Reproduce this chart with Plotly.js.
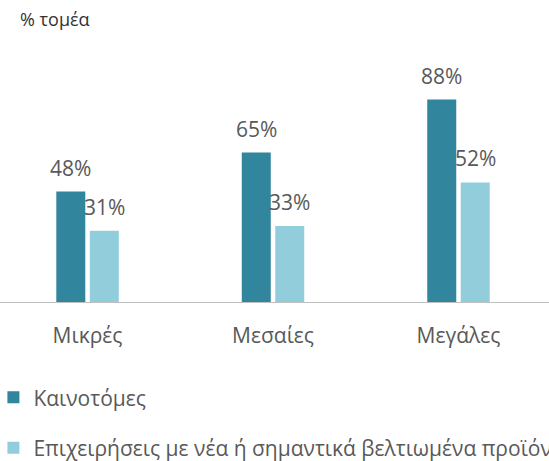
<!DOCTYPE html>
<html>
<head>
<meta charset="utf-8">
<script src="https://cdn.plot.ly/plotly-3.0.1.min.js"></script>
<style>html,body{margin:0;padding:0;background:#fff;}#chart{width:549px;height:461px;}</style>
</head>
<body>
<div id="chart"></div>
<script>
const categories = ["Μικρές", "Μεσαίες", "Μεγάλες"];
const seriesNames = ["Καινοτόμες", "Επιχειρήσεις με νέα ή σημαντικά βελτιωμένα προϊόντα"];
const innovative = [48, 65, 88];
const newProducts = [31, 33, 52];
const yTitle = "% τομέα";

const colors = ["#31859C", "#92CDDC"];
const FONT = "Open Sans, Noto Sans, sans-serif";
const GRAY = "#595959";
const bargap = 0.639, bargroupgap = 0.134;
const slot = (1 - bargap) / 2;

const seriesValues = [innovative, newProducts];
const traces = seriesValues.map((vals, s) => ({
  type: "bar",
  name: seriesNames[s],
  x: categories.map((c, i) => i),
  y: vals,
  marker: {color: colors[s]},
  legendgroup: "g" + s,
  hoverinfo: "skip"
}));

const annotations = [];
seriesValues.forEach((vals, s) => {
  vals.forEach((v, i) => {
    annotations.push({
      x: i + (s === 0 ? -slot / 2 : slot / 2),
      y: v, xref: "x", yref: "y",
      text: v + "%",
      showarrow: false,
      yanchor: "bottom",
      yshift: 8,
      font: {family: FONT, size: 21, color: GRAY}
    });
  });
});

const layout = {
  width: 549, height: 461,
  margin: {l: 0, r: 0, t: 72, b: 159, autoexpand: false},
  paper_bgcolor: "#fff", plot_bgcolor: "#fff",
  barmode: "group", bargap: bargap, bargroupgap: bargroupgap,
  showlegend: true,
  title: {
    text: yTitle, xref: "container", yref: "container",
    x: 20 / 549, xanchor: "left", y: 1 - 20 / 461, yanchor: "middle",
    font: {family: FONT, size: 18, color: "#333333"}
  },
  xaxis: {
    type: "linear",
    range: [-0.472, 2.488],
    tickvals: categories.map((c, i) => i),
    ticktext: categories,
    showgrid: false, zeroline: false,
    showline: true, linecolor: "#BFBFBF", linewidth: 1,
    ticks: "", ticklabelstandoff: 15,
    tickfont: {family: FONT, size: 21, color: GRAY},
    fixedrange: true
  },
  yaxis: {
    range: [0, 100], visible: false, showgrid: false, zeroline: false, fixedrange: true
  },
  legend: {
    orientation: "v", traceorder: "grouped", tracegroupgap: 20,
    xref: "paper", yref: "paper",
    x: -0.012, xanchor: "left", y: -0.327, yanchor: "top",
    font: {family: FONT, size: 21, color: GRAY},
    bgcolor: "rgba(0,0,0,0)"
  },
  annotations: annotations
};

Plotly.newPlot("chart", traces, layout, {displayModeBar: false, staticPlot: true});
</script>
</body>
</html>
